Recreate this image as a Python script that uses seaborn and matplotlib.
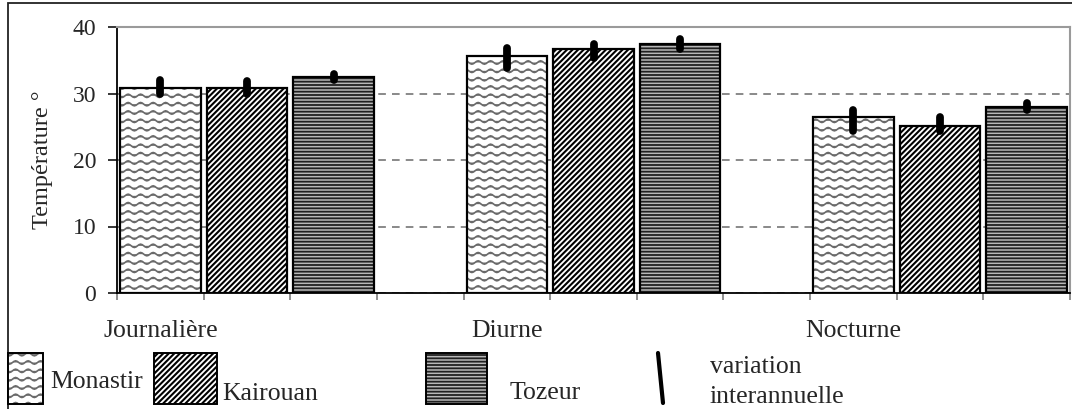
import warnings
import numpy as np
import pandas as pd
import matplotlib
matplotlib.use("Agg")
import matplotlib.pyplot as plt
import seaborn as sns
from matplotlib import hatch as mhatch
from matplotlib.path import Path
from matplotlib.patches import Rectangle
from matplotlib.lines import Line2D
from matplotlib.colors import to_rgba

warnings.filterwarnings("ignore")

periodes = ["Journalière", "Diurne", "Nocturne"]
stations = ["Monastir", "Kairouan", "Tozeur"]

# mean temperature per station, one value per period
monastir = [30.8, 35.7, 26.4]
kairouan = [30.8, 36.7, 25.1]
tozeur = [32.5, 37.4, 28.0]

# interannual variation (low / high ends of the black bars)
monastir_low = [29.9, 33.9, 24.4]
monastir_high = [32.1, 36.9, 27.5]
kairouan_low = [29.9, 35.3, 24.3]
kairouan_high = [31.9, 37.5, 26.4]
tozeur_low = [32.1, 36.7, 27.5]
tozeur_high = [33.0, 38.2, 28.5]

yticks = [0, 10, 20, 30, 40]


class WaveHatch(mhatch.HatchPatternBase):
    """Wavy lines, used with the '~' hatch character."""

    def __init__(self, hatch, density):
        self.num_lines = int(hatch.count("~") * density)
        self.pts = 65
        self.num_vertices = self.num_lines * self.pts

    def set_vertices_and_codes(self, vertices, codes):
        t = np.linspace(0, 1, self.pts)
        step = 1.0 / max(self.num_lines, 1)
        for i in range(self.num_lines):
            s = slice(i * self.pts, (i + 1) * self.pts)
            vertices[s, 0] = t
            vertices[s, 1] = (i + 0.5) * step + 0.2 * step * np.sin(2 * np.pi * 8 * t)
            codes[s] = Path.LINETO
            codes[i * self.pts] = Path.MOVETO


mhatch._hatch_types.append(WaveHatch)

# face colour, hatch, hatch colour, hatch width for each station
styles = {
    "Monastir": ("white", "~~", "#6a6a6a", 1.2),
    "Kairouan": ("white", "//////", "black", 1.5),
    "Tozeur": ("#b8b8b8", "-----", "#202020", 1.3),
}


def style_patch(p, face, hatch, hcolor, hlw, edge_lw=1.6):
    p.set_facecolor(face)
    p.set_edgecolor("black")
    p.set_linewidth(edge_lw)
    p.set_hatch(hatch)
    if hasattr(p, "set_hatchcolor"):
        p.set_hatchcolor(hcolor)
    else:
        p._hatch_color = to_rgba(hcolor)
    if hasattr(p, "set_hatch_linewidth"):
        p.set_hatch_linewidth(hlw)
    else:
        p._hatch_linewidth = hlw


sns.set_theme(style="white")
plt.rcParams["font.family"] = ["Liberation Serif", "DejaVu Serif"]
plt.rcParams["font.size"] = 18.5

df = pd.DataFrame({
    "periode": periodes * 3,
    "station": np.repeat(stations, 3),
    "temp": monastir + kairouan + tozeur,
    "low": monastir_low + kairouan_low + tozeur_low,
    "high": monastir_high + kairouan_high + tozeur_high,
})

fig = plt.figure(figsize=(10.72, 4.09), dpi=100)
ax = fig.add_axes([117 / 1072, 1 - 293 / 409, 953 / 1072, 266 / 409])

sns.barplot(
    data=df, x="periode", y="temp", hue="station",
    order=periodes, hue_order=stations,
    width=0.75, gap=0.07, errorbar=None, saturation=1,
    legend=False, ax=ax,
)

for st, cont in zip(stations, ax.containers):
    for p in cont:
        style_patch(p, *styles[st])
        p.set_zorder(2)
    sub = df[df["station"] == st]
    xs = [p.get_x() + p.get_width() / 2 for p in cont]
    ax.vlines(xs, sub["low"], sub["high"], colors="black",
              linewidth=5.6, capstyle="round", zorder=4)

slot = ax.containers[0][0].get_width() / (1 - 0.07)
x0 = ax.containers[0][0].get_x() + ax.containers[0][0].get_width() / 2 - slot / 2
ax.set_xlim(x0, x0 + 11 * slot)
ax.set_ylim(0, 40)

# slot boundaries as unlabeled ticks, period names under the first bar
ax.set_xticks([x0 + k * slot for k in range(12)], [""] * 12)
first = [p.get_x() + p.get_width() / 2 for p in ax.containers[0]]
ax.set_xticks(first, periodes, minor=True)
ax.tick_params(axis="x", which="major", direction="out", length=5,
               width=1.1, color="#707070", bottom=True)
ax.tick_params(axis="x", which="minor", length=0, pad=19.5, labelsize=18.5)
ax.set_yticks(yticks)
ax.tick_params(axis="y", direction="out", length=6.5, width=1.1,
               color="black", left=True, pad=8.5, labelsize=17)

ax.yaxis.grid(True, linestyle=(0, (5, 4)), color="#6a6a6a", linewidth=1.1)
ax.xaxis.grid(False)
ax.set_axisbelow(True)

ax.set_xlabel("")
ax.set_ylabel("Température °", fontsize=17.5)
ax.yaxis.set_label_coords(-64 / 953, 0.5)

for side in ["left", "bottom"]:
    ax.spines[side].set_color("black")
    ax.spines[side].set_linewidth(1.3)
for side in ["top", "right"]:
    ax.spines[side].set_color("#9a9a9a")
    ax.spines[side].set_linewidth(1.5)

# outer frame of the figure
fig.patches.append(Rectangle((8 / 1072, -0.2), 2, 1.2 - 3 / 409,
                             transform=fig.transFigure, fill=False,
                             edgecolor="#222222", linewidth=1.3))


def swatch(x_left, x_right, st):
    r = Rectangle((x_left / 1072, 1 - 404 / 409), (x_right - x_left) / 1072,
                  51 / 409, transform=fig.transFigure)
    style_patch(r, *styles[st], edge_lw=1.4)
    fig.patches.append(r)


swatch(8, 43, "Monastir")
swatch(154, 217, "Kairouan")
swatch(426, 487, "Tozeur")
fig.text(50 / 1072, 1 - 388 / 409, "Monastir", va="baseline", ha="left")
fig.text(222 / 1072, 1 - 400 / 409, "Kairouan", va="baseline", ha="left")
fig.text(510 / 1072, 1 - 399 / 409, "Tozeur", va="baseline", ha="left")
fig.lines.append(Line2D([658 / 1072, 663 / 1072], [1 - 353 / 409, 1 - 403 / 409],
                        transform=fig.transFigure, color="black", linewidth=3))
fig.text(710 / 1072, 1 - 373 / 409, "variation", va="baseline", ha="left")
fig.text(710 / 1072, 1 - 403 / 409, "interannuelle", va="baseline", ha="left")

fig.savefig("out.png", dpi=100)
